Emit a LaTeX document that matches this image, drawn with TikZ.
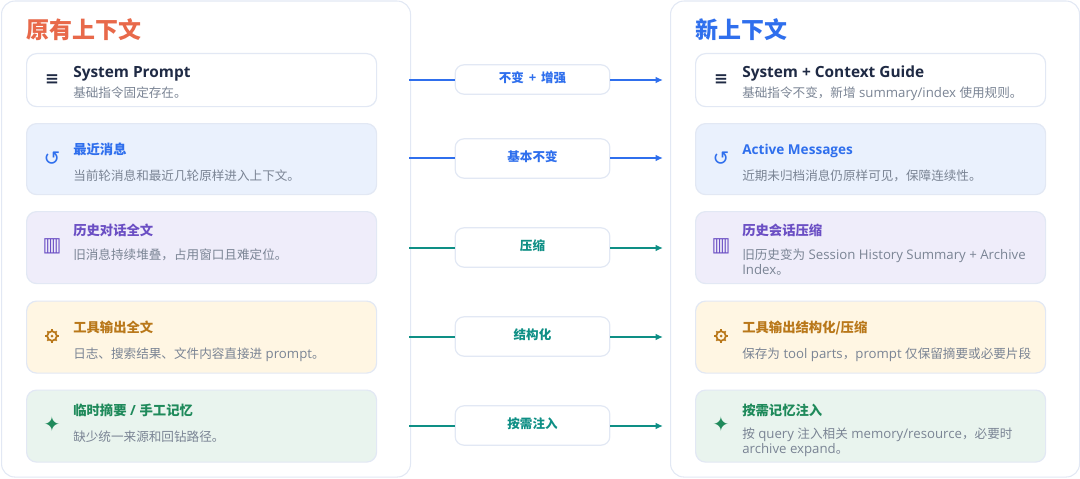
\documentclass[tikz,border=0pt]{standalone}
\usepackage{fontspec}
\setmainfont{Open Sans}[Scale=1.05]
\newfontfamily\cjk{Noto Sans CJK SC}
\newfontfamily\glyphfont{DejaVu Sans}
\newcommand{\zh}[1]{{\cjk #1}}
\definecolor{edgeline}{HTML}{E2E8F4}
\definecolor{bluetone}{HTML}{2F6FED}
\definecolor{tealtone}{HTML}{0E8F85}
\definecolor{orangetone}{HTML}{E8694A}
\definecolor{purpletone}{HTML}{6B4FC4}
\definecolor{ambertone}{HTML}{B9781A}
\definecolor{greentone}{HTML}{1F8A5B}
\definecolor{navytone}{HTML}{1F2A44}
\definecolor{greytone}{HTML}{7A8494}
\definecolor{bluefill}{HTML}{EAF1FD}
\definecolor{purplefill}{HTML}{EFEDFA}
\definecolor{amberfill}{HTML}{FFF6E3}
\definecolor{greenfill}{HTML}{E9F4EE}
\tikzset{
  panel/.style={draw=edgeline, line width=.8pt, fill=white, rounded corners=10pt, anchor=north west,
    minimum width=306.75pt, minimum height=357pt},
  card/.style={draw=edgeline, line width=.9pt, rounded corners=7.5pt, anchor=north west,
    minimum width=262.5pt},
  tag/.style={draw=edgeline, line width=.9pt, fill=white, rounded corners=6.5pt, text height=7pt, text depth=3pt,
    minimum width=116pt, font=\bfseries\fontsize{9.4}{11}\selectfont},
  heading/.style={anchor=base west, inner sep=0pt, font=\bfseries\fontsize{17.2}{20}\selectfont},
  lead/.style={anchor=base west, inner sep=0pt, font=\bfseries\fontsize{10}{12}\selectfont},
  leadbig/.style={anchor=base west, inner sep=0pt, text=navytone, font=\bfseries\fontsize{11}{14}\selectfont},
  note/.style={anchor=base west, inner sep=0pt, text=greytone, font=\fontsize{9.45}{11}\selectfont},
  glyph/.style={inner sep=0pt, font=\glyphfont\bfseries\fontsize{15}{17}\selectfont},
  menuglyph/.style={inner sep=0pt, text=navytone, font=\glyphfont\bfseries\fontsize{12.5}{15}\selectfont},
  loopglyph/.style={inner sep=0pt, text=bluetone, font=\glyphfont\fontsize{15}{17}\selectfont},
  flow/.style={line width=1.1pt},
  flowtip/.style={line width=1.1pt, -{Latex[length=5.5pt,width=5pt]}},
  gearmark/.pic={
    \draw[ambertone, line width=1.3pt] (0,0) circle (4.8);
    \fill[ambertone] (0,0) circle (1.5);
    \foreach \ang in {0,90,180,270}
      \draw[ambertone, line width=1.7pt] (\ang:4.8) -- (\ang:7.4);
    \foreach \ang in {45,135,225,315}
      \draw[ambertone, line width=1.3pt] (\ang:4.8) -- (\ang:6.6);
  }
}
\usetikzlibrary{arrows.meta}
\begin{document}
\begin{tikzpicture}[x=.75pt, y=-.75pt]
  \useasboundingbox (0,0) rectangle (1080,478);
  % panels
  \node[panel] (oldpanel) at (1,0.5) {};
  \node[panel] (newpanel) at (670,0.5) {};
  \node[heading, text=orangetone] (oldtitle) at (26,38.5) {\zh{原有上下文}};
  \node[heading, text=bluetone] (newtitle) at (695,38.5) {\zh{新上下文}};
  % left cards
  \node[card, fill=white, minimum height=39.75pt] (oldprompt) at (26,53) {};
  \node[card, fill=bluefill, minimum height=53.25pt] (oldactive) at (26,123) {};
  \node[card, fill=purplefill, minimum height=54pt] (oldhistory) at (26,211) {};
  \node[card, fill=amberfill, minimum height=54pt] (oldtools) at (26,300.5) {};
  \node[card, fill=greenfill, minimum height=54pt] (oldmemory) at (26,389.5) {};
  % right cards
  \node[card, fill=white, minimum height=39.75pt] (newprompt) at (695,53) {};
  \node[card, fill=bluefill, minimum height=53.25pt] (newactive) at (695,123) {};
  \node[card, fill=purplefill, minimum height=54pt] (newhistory) at (695,211) {};
  \node[card, fill=amberfill, minimum height=54pt] (newtools) at (695,300.5) {};
  \node[card, fill=greenfill, minimum height=54pt] (newmemory) at (695,389.5) {};
  % icons
  \node[menuglyph] (iconoa) at (52,80) {≡};
  \node[loopglyph] (iconob) at (52,158.5) {↺};
  \node[glyph, text=purpletone] (iconoc) at (52,246.5) {▥};
  \pic at (52,336) {gearmark};
  \node[glyph, text=greentone] (iconoe) at (52,424) {✦};
  \node[menuglyph] (iconna) at (721,80) {≡};
  \node[loopglyph] (iconnb) at (721,158.5) {↺};
  \node[glyph, text=purpletone] (iconnc) at (721,246.5) {▥};
  \pic at (721,336) {gearmark};
  \node[glyph, text=greentone] (iconne) at (721,424) {✦};
  % left texts
  \node[leadbig] (oldleada) at (73,78) {System Prompt};
  \node[note] (oldnotea) at (73,98) {\zh{基础指令固定存在。}};
  \node[lead, text=bluetone] (oldleadb) at (73,154) {\zh{最近消息}};
  \node[note] (oldnoteb) at (73,180) {\zh{当前轮消息和最近几轮原样进入上下文。}};
  \node[lead, text=purpletone] (oldleadc) at (73,235) {\zh{历史对话全文}};
  \node[note] (oldnotec) at (73,259) {\zh{旧消息持续堆叠，占用窗口且难定位。}};
  \node[lead, text=ambertone] (oldleadd) at (73,332) {\zh{工具输出全文}};
  \node[note] (oldnoted) at (73,358) {\zh{日志、搜索结果、文件内容直接进} prompt\zh{。}};
  \node[lead, text=greentone] (oldleade) at (73,415) {\zh{临时摘要} / \zh{手工记忆}};
  \node[note] (oldnotee) at (73,441) {\zh{缺少统一来源和回钻路径。}};
  % right texts
  \node[leadbig] (newleada) at (742,78) {System + Context Guide};
  \node[note] (newnotea) at (742,98) {\zh{基础指令不变，新增} summary/index \zh{使用规则。}};
  \node[lead, text=bluetone, font=\bfseries\fontsize{9.7}{12}\selectfont] (newleadb) at (742,154) {Active Messages};
  \node[note] (newnoteb) at (742,180) {\zh{近期未归档消息仍原样可见，保障连续性。}};
  \node[lead, text=purpletone] (newleadc) at (742,235) {\zh{历史会话压缩}};
  \node[note] (newnotec) at (742,259) {\zh{旧历史变为} Session History Summary + Archive};
  \node[note] (newnotecc) at (742,274) {Index\zh{。}};
  \node[lead, text=ambertone] (newleadd) at (742,332) {\zh{工具输出结构化/压缩}};
  \node[note] (newnoted) at (742,358) {\zh{保存为} tool parts\zh{，}prompt \zh{仅保留摘要或必要片段}};
  \node[lead, text=greentone] (newleade) at (742,415) {\zh{按需记忆注入}};
  \node[note] (newnotee) at (742,438) {\zh{按} query \zh{注入相关} memory/resource\zh{，必要时}};
  \node[note] (newnoteee) at (742,453) {archive expand\zh{。}};
  % middle tags
  \node[tag, text=bluetone, minimum height=22pt] (tagprompt) at (532.5,79.5) {\zh{不变}\hspace{1pt} + \hspace{1pt}\zh{增强}};
  \node[tag, text=bluetone, minimum height=29.5pt] (tagactive) at (532.5,158.5) {\zh{基本不变}};
  \node[tag, text=tealtone, minimum height=29.5pt] (taghistory) at (532.5,247.5) {\zh{压缩}};
  \node[tag, text=tealtone, minimum height=29.5pt] (tagtools) at (532.5,336.5) {\zh{结构化}};
  \node[tag, text=tealtone, minimum height=29.5pt] (tagmemory) at (532.5,425.5) {\zh{按需注入}};
  % free arrow ends
  \coordinate (startprompt) at (409,80);
  \coordinate (startactive) at (409,158);
  \coordinate (starthistory) at (409,248);
  \coordinate (starttools) at (409,337);
  \coordinate (startmemory) at (409,426);
  \coordinate (endprompt) at (663,80);
  \coordinate (endactive) at (663,158);
  \coordinate (endhistory) at (663,248);
  \coordinate (endtools) at (663,337);
  \coordinate (endmemory) at (663,426);
  % connectors
  \draw[flow, bluetone] (startprompt) -- (tagprompt.west |- startprompt);
  \draw[flow, bluetone] (startactive) -- (tagactive.west |- startactive);
  \draw[flow, tealtone] (starthistory) -- (taghistory.west |- starthistory);
  \draw[flow, tealtone] (starttools) -- (tagtools.west |- starttools);
  \draw[flow, tealtone] (startmemory) -- (tagmemory.west |- startmemory);
  \draw[flowtip, bluetone] (tagprompt.east |- endprompt) -- (endprompt);
  \draw[flowtip, bluetone] (tagactive.east |- endactive) -- (endactive);
  \draw[flowtip, tealtone] (taghistory.east |- endhistory) -- (endhistory);
  \draw[flowtip, tealtone] (tagtools.east |- endtools) -- (endtools);
  \draw[flowtip, tealtone] (tagmemory.east |- endmemory) -- (endmemory);
\end{tikzpicture}
\end{document}
